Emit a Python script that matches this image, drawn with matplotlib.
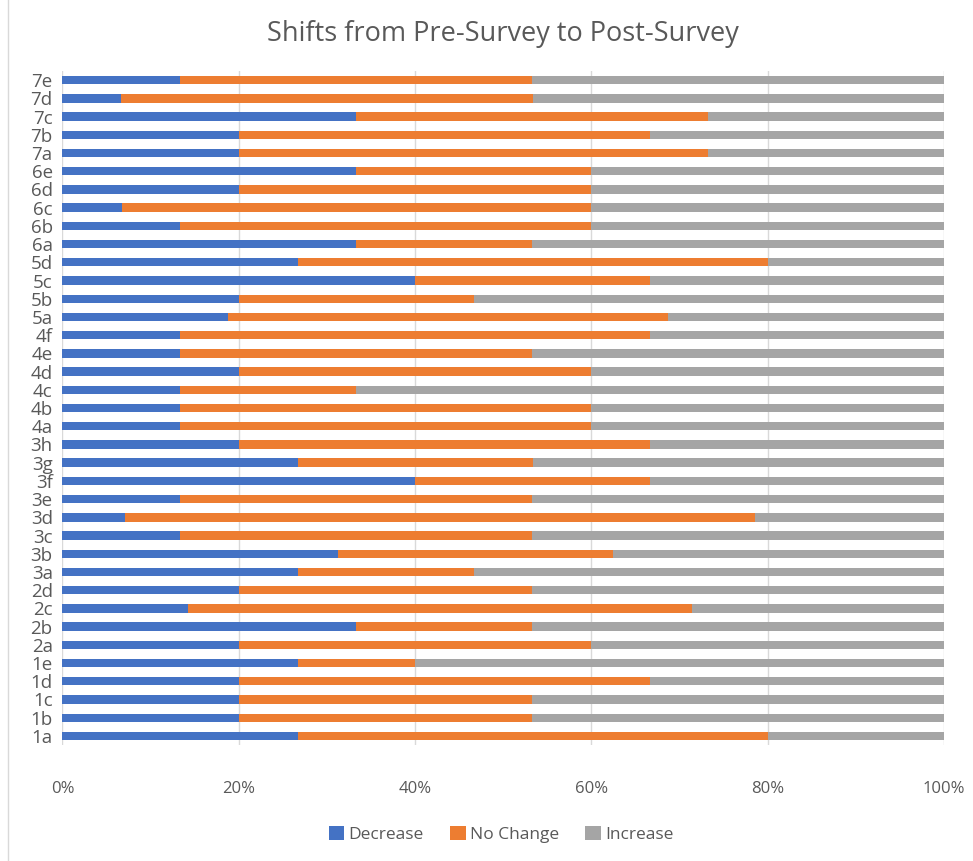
import matplotlib
matplotlib.use("Agg")
import matplotlib.pyplot as plt
import numpy as np
from matplotlib.ticker import FuncFormatter

categories = ["1a", "1b", "1c", "1d", "1e", "2a", "2b", "2c", "2d",
              "3a", "3b", "3c", "3d", "3e", "3f", "3g", "3h",
              "4a", "4b", "4c", "4d", "4e", "4f",
              "5a", "5b", "5c", "5d",
              "6a", "6b", "6c", "6d", "6e",
              "7a", "7b", "7c", "7d", "7e"]

decrease = [26.7, 20.0, 20.0, 20.0, 26.7, 20.0, 33.3, 14.3, 20.0,
            26.7, 31.25, 13.3, 7.1, 13.3, 40.0, 26.7, 20.0,
            13.3, 13.3, 13.3, 20.0, 13.3, 13.3,
            18.75, 20.0, 40.0, 26.7,
            33.3, 13.3, 6.7, 20.0, 33.3,
            20.0, 20.0, 33.3, 6.7, 13.3]

no_change = [53.3, 33.3, 33.3, 46.7, 13.3, 40.0, 20.0, 57.1, 33.3,
             20.0, 31.25, 40.0, 71.4, 40.0, 26.7, 26.7, 46.7,
             46.7, 46.7, 20.0, 40.0, 40.0, 53.3,
             50.0, 26.7, 26.7, 53.3,
             20.0, 46.7, 53.3, 40.0, 26.7,
             53.3, 46.7, 40.0, 46.7, 40.0]

increase = [20.0, 46.7, 46.7, 33.3, 60.0, 40.0, 46.7, 28.6, 46.7,
            53.3, 37.5, 46.7, 21.4, 46.7, 33.3, 46.7, 33.3,
            40.0, 40.0, 66.7, 40.0, 46.7, 33.3,
            31.25, 53.3, 33.3, 20.0,
            46.7, 40.0, 40.0, 40.0, 40.0,
            26.7, 33.3, 26.7, 46.7, 46.7]

series_names = ["Decrease", "No Change", "Increase"]
colors = ["#4472C4", "#ED7D31", "#A5A5A5"]

plt.rcParams['font.family'] = ['Open Sans', 'DejaVu Sans']

data = np.array([decrease, no_change, increase], dtype=float)
data = data / data.sum(axis=0) * 100.0

fig = plt.figure(figsize=(9.73, 8.61), dpi=100)
ax = fig.add_axes([0.0642, 0.1347, 0.9058, 0.7828])

y = np.arange(len(categories))
left = np.zeros(len(categories))
for vals, name, col in zip(data, series_names, colors):
    ax.barh(y, vals, left=left, height=0.46, color=col, label=name, zorder=3)
    left += vals

ax.set_xlim(0, 100)
ax.set_ylim(-0.5, len(categories) - 0.5)
ax.set_yticks(y)
ax.set_yticklabels(categories)
ax.set_xticks(np.arange(0, 101, 20))
ax.xaxis.set_major_formatter(FuncFormatter(lambda v, p: f"{v:.0f}%"))

ax.grid(axis="x", color="#D9D9D9", linewidth=1.0, zorder=0)
for s in ax.spines.values():
    s.set_visible(False)
ax.tick_params(axis="both", length=0, colors="#595959")
ax.tick_params(axis="y", labelsize=13.5, pad=7)
ax.tick_params(axis="x", labelsize=12, pad=26)

fig.suptitle("Shifts from Pre-Survey to Post-Survey", x=0.517, y=0.977,
             fontsize=19.5, color="#595959")

handles, labels = ax.get_legend_handles_labels()
fig.legend(handles, labels, loc="center", bbox_to_anchor=(0.515, 0.031),
           ncol=3, frameon=False, fontsize=12.5, labelcolor="#595959",
           handlelength=0.9, handleheight=0.9, handletextpad=0.25,
           columnspacing=1.5)

fig.add_artist(plt.Line2D([0.008, 0.008], [0.0, 1.0], color="#D9D9D9",
                          linewidth=1.0, transform=fig.transFigure))

fig.savefig("out.png", dpi=100)
